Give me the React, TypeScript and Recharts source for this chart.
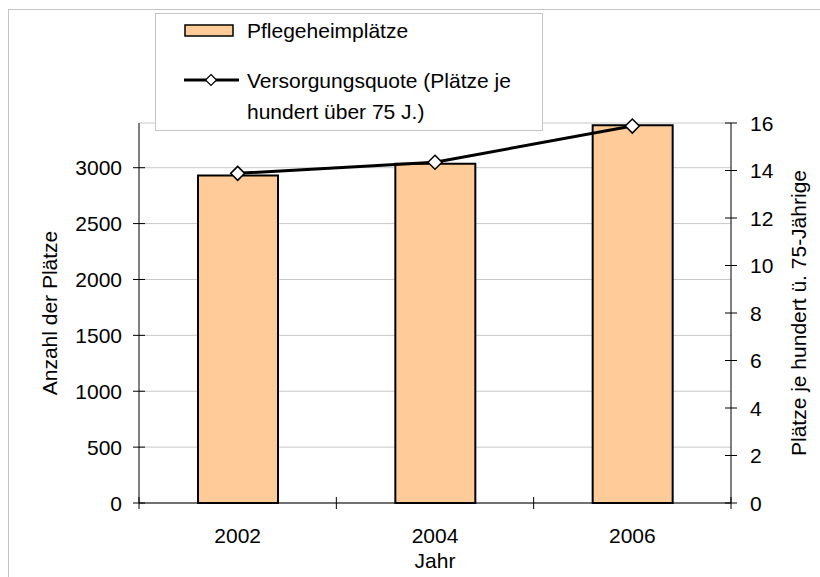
import React from "react";
import { ComposedChart, Bar, Line, XAxis, YAxis, CartesianGrid } from "recharts";

const YEARS = ["2002", "2004", "2006"];
const PLAETZE = [2930, 3035, 3380];
const QUOTE = [13.88, 14.35, 15.87];
const LEFT_TICKS = [0, 500, 1000, 1500, 2000, 2500, 3000];
const RIGHT_TICKS = [0, 2, 4, 6, 8, 10, 12, 14, 16];

const data = YEARS.map((year, i) => ({ year, plaetze: PLAETZE[i], quote: QUOTE[i] }));

const FONT = "'Liberation Sans', Arial, sans-serif";
const FS = 21;
const BAR_FILL = "#FFCC99";
const PLOT_W = 592;
const STEP = PLOT_W / YEARS.length;

function LeftTick(props: any) {
  const { x, y, payload } = props;
  return (
    <g>
      <line x1={x + 11} x2={x + 23} y1={y} y2={y} stroke="#000" />
      <text x={x} y={y} dy="0.36em" textAnchor="end" fontFamily={FONT} fontSize={FS} fill="#000">
        {payload.value}
      </text>
    </g>
  );
}

function RightTick(props: any) {
  const { x, y, payload } = props;
  return (
    <g>
      <line x1={x - 25} x2={x - 13} y1={y} y2={y} stroke="#000" />
      <text x={x} y={y} dy="0.36em" textAnchor="start" fontFamily={FONT} fontSize={FS} fill="#000">
        {payload.value}
      </text>
    </g>
  );
}

function YearTick(props: any) {
  const { x, y, payload, index } = props;
  const axisY = y - 32;
  const left = x - STEP / 2;
  const right = x + STEP / 2;
  return (
    <g>
      <line x1={left} x2={left} y1={axisY - 6} y2={axisY + 6} stroke="#000" />
      {index === YEARS.length - 1 && (
        <line x1={right} x2={right} y1={axisY - 6} y2={axisY + 6} stroke="#000" />
      )}
      <text x={x} y={y} dy="0.36em" textAnchor="middle" fontFamily={FONT} fontSize={FS} fill="#000">
        {payload.value}
      </text>
    </g>
  );
}

function Diamond(props: any) {
  const { cx, cy } = props;
  if (cx == null || cy == null) return null;
  const r = 7;
  return (
    <path
      d={`M${cx},${cy - r}L${cx + r},${cy}L${cx},${cy + r}L${cx - r},${cy}Z`}
      fill="#fff"
      stroke="#000"
      strokeWidth={1.5}
    />
  );
}

function Legende() {
  return (
    <div
      style={{
        position: "absolute",
        left: 155,
        top: 13,
        width: 388,
        height: 118,
        border: "1px solid #c4c4c4",
        background: "#fff",
        boxSizing: "border-box",
      }}
    >
      <svg width={388} height={118} style={{ position: "absolute", left: -1, top: -1 }}>
        <rect x={30} y={12} width={48} height={11} fill={BAR_FILL} stroke="#000" strokeWidth={1.5} />
        <text x={92} y={17} dy="0.36em" fontFamily={FONT} fontSize={FS} fill="#000">
          Pflegeheimplätze
        </text>
        <line x1={29} x2={84} y1={67} y2={67} stroke="#000" strokeWidth={3} />
        <path d="M56,61.5L61.5,67L56,72.5L50.5,67Z" fill="#fff" stroke="#000" strokeWidth={1.2} />
        <text x={92} y={67} dy="0.36em" fontFamily={FONT} fontSize={FS} fill="#000">
          Versorgungsquote (Plätze je
        </text>
        <text x={92} y={98} dy="0.36em" fontFamily={FONT} fontSize={FS} fill="#000">
          hundert über 75 J.)
        </text>
      </svg>
    </div>
  );
}

export default function App() {
  return (
    <div
      style={{
        position: "fixed",
        left: 0,
        top: 0,
        width: 820,
        height: 577,
        overflow: "hidden",
        background: "#fff",
        fontFamily: FONT,
      }}
    >
      <div
        style={{
          position: "absolute",
          left: 8,
          top: 9,
          width: 840,
          height: 600,
          border: "1px solid #c4c4c4",
        }}
      />
      <div style={{ position: "absolute", left: 0, top: 0 }}>
        <ComposedChart
          width={820}
          height={577}
          data={data}
          margin={{ top: 123, right: 9, bottom: 14, left: 59 }}
        >
          <CartesianGrid horizontal vertical={false} stroke="#c8c8c8" yAxisId="left" />
          <XAxis
            dataKey="year"
            type="category"
            height={60}
            tickLine={false}
            tickSize={0}
            tickMargin={32}
            axisLine={{ stroke: "#000" }}
            tick={<YearTick />}
            interval={0}
            label={{
              content: (p: any) => {
                const vb = p.viewBox || { x: 139, y: 503, width: 592 };
                return (
                  <text
                    x={vb.x + vb.width / 2}
                    y={vb.y + 57}
                    dy="0.36em"
                    textAnchor="middle"
                    fontFamily={FONT}
                    fontSize={FS}
                    fill="#000"
                  >
                    Jahr
                  </text>
                );
              },
            }}
          />
          <YAxis
            yAxisId="left"
            orientation="left"
            width={80}
            domain={[0, 3400]}
            ticks={LEFT_TICKS}
            interval={0}
            tickLine={false}
            tickSize={0}
            tickMargin={17}
            axisLine={{ stroke: "#000" }}
            tick={<LeftTick />}
            label={{
              content: (p: any) => {
                const vb = p.viewBox || { x: 59, y: 123, height: 380 };
                const cx = vb.x - 2;
                const cy = vb.y + vb.height / 2;
                return (
                  <text
                    x={cx}
                    y={cy}
                    transform={`rotate(-90 ${cx} ${cy})`}
                    textAnchor="middle"
                    fontFamily={FONT}
                    fontSize={FS}
                    fill="#000"
                  >
                    Anzahl der Plätze
                  </text>
                );
              },
            }}
          />
          <YAxis
            yAxisId="right"
            orientation="right"
            width={80}
            domain={[0, 16]}
            ticks={RIGHT_TICKS}
            interval={0}
            tickLine={false}
            tickSize={0}
            tickMargin={19}
            axisLine={{ stroke: "#000" }}
            tick={<RightTick />}
            label={{
              content: (p: any) => {
                const vb = p.viewBox || { x: 731, y: 123, height: 380 };
                const cx = vb.x + 75;
                const cy = vb.y + vb.height / 2;
                return (
                  <text
                    x={cx}
                    y={cy}
                    transform={`rotate(-90 ${cx} ${cy})`}
                    textAnchor="middle"
                    fontFamily={FONT}
                    fontSize={FS}
                    fill="#000"
                  >
                    Plätze je hundert ü. 75-Jährige
                  </text>
                );
              },
            }}
          />
          <Bar
            yAxisId="left"
            dataKey="plaetze"
            barSize={80}
            fill={BAR_FILL}
            stroke="#000"
            strokeWidth={2}
            isAnimationActive={false}
          />
          <Line
            yAxisId="right"
            dataKey="quote"
            type="linear"
            stroke="#000"
            strokeWidth={3}
            dot={<Diamond />}
            activeDot={false}
            isAnimationActive={false}
          />
        </ComposedChart>
      </div>
      <Legende />
    </div>
  );
}
